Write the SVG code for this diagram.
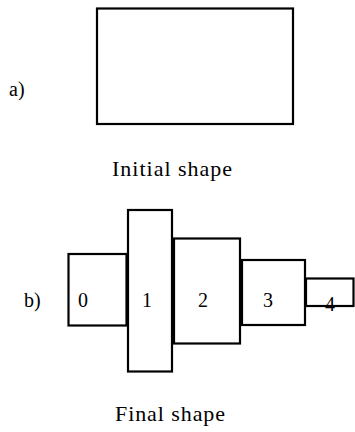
<svg xmlns="http://www.w3.org/2000/svg" width="355" height="432" viewBox="0 0 355 432">
<style>
.box{fill:#fff;stroke:#000;stroke-width:2.2}
.lab{font-size:20px}
.num{font-size:20px;text-anchor:middle}
.cap{font-size:22px}
</style>
<rect width="355" height="432" fill="#fff"/>
<g id="initial">
<rect class="box" x="97" y="8.5" width="196" height="115.5"/>
</g>
<g font-family="Liberation Serif" fill="#000">
<text class="lab" x="9" y="96">a)</text>
<text class="cap" x="112" y="176" textLength="120" lengthAdjust="spacing">Initial shape</text>
<text class="lab" x="24" y="307">b)</text>
</g>
<g font-family="Liberation Serif" fill="#000">
<g id="n0"><rect class="box" x="68.5" y="254" width="58" height="71.5"/><text class="num" x="83" y="307">0</text></g>
<g id="n1"><rect class="box" x="128" y="210" width="44" height="161.5"/><text class="num" x="147" y="307">1</text></g>
<g id="n2"><rect class="box" x="174" y="238.5" width="66" height="105"/><text class="num" x="203" y="307">2</text></g>
<g id="n3"><rect class="box" x="242" y="260" width="63" height="65"/><text class="num" x="268" y="307">3</text></g>
<g id="n4"><rect class="box" x="306" y="278.5" width="47.5" height="27.5"/><text class="num" x="330" y="311">4</text></g>
</g>
<g id="connectors"></g>
<text class="cap" font-family="Liberation Serif" x="115" y="421" textLength="110" lengthAdjust="spacing">Final shape</text>
</svg>
